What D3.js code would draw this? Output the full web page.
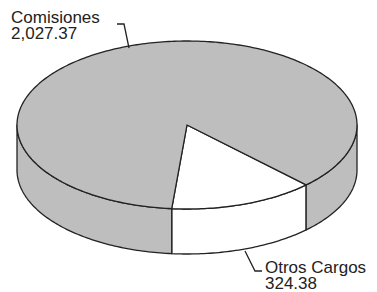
<!DOCTYPE html>
<html>
<head>
<meta charset="utf-8">
<script src="https://cdn.jsdelivr.net/npm/d3@7"></script>
<style>
  body { margin: 0; background: #fff; }
  text { font-family: "Liberation Sans", Arial, sans-serif; fill: #222; }
</style>
</head>
<body>
<script>
// data
let labels = ["Otros Cargos", "Comisiones"]
let values = [324.38, 2027.37]
let valueText = ["324.38", "2,027.37"]

let width = 377
let height = 292

// ellipse of the pie top, and thickness of the wall
let cx = 187, cy = 125, rx = 170, ry = 84, depth = 45

let color = d3.scaleOrdinal()
                .domain(labels)
                .range(["#ffffff", "#bebebe"])

let svg = d3.select("body")
                .append("svg")
                .attr("width", width)
                .attr("height", height)

let start = 135.5 * Math.PI / 180
let pie = d3.pie()
                .sort(null)
                .startAngle(start)
                .endAngle(start + 2 * Math.PI)

let arcs = pie(values)

// point on the ellipse, pie angle from 12 o'clock clockwise
let pt = (a, dz) => [cx + rx * Math.sin(a), cy - ry * Math.cos(a) + (dz || 0)]

let arcPoints = (a0, a1, dz) => {
    let pts = []
    let n = Math.max(2, Math.ceil(Math.abs(a1 - a0) / (Math.PI / 180)))
    for (let i = 0; i <= n; i++) pts.push(pt(a0 + (a1 - a0) * i / n, dz))
    return pts
}

let line = d3.line()

// front part of the wall: angles where the rim faces the viewer
let frontParts = (s, e) => {
    let parts = []
    for (let k = -1; k <= 2; k++) {
        let lo = Math.PI / 2 + k * 2 * Math.PI
        let hi = 3 * Math.PI / 2 + k * 2 * Math.PI
        let a0 = Math.max(s, lo), a1 = Math.min(e, hi)
        if (a1 > a0) parts.push([a0, a1])
    }
    return parts
}

let sides = []
arcs.forEach((d, i) => {
    frontParts(d.startAngle, d.endAngle).forEach(p => sides.push({ label: labels[i], a0: p[0], a1: p[1] }))
})

svg.selectAll(".side")
    .data(sides)
    .enter()
    .append("path")
    .attr("class", "side")
    .attr("d", d => line(arcPoints(d.a0, d.a1, 0).concat(arcPoints(d.a1, d.a0, depth))) + "Z")
    .attr("fill", d => color(d.label))
    .attr("stroke", "#222")
    .attr("stroke-width", 1.3)
    .attr("stroke-linejoin", "round")

svg.selectAll(".top")
    .data(arcs)
    .enter()
    .append("path")
    .attr("class", "top")
    .attr("d", d => line([[cx, cy]].concat(arcPoints(d.startAngle, d.endAngle, 0))) + "Z")
    .attr("fill", (d, i) => color(labels[i]))
    .attr("stroke", "#222")
    .attr("stroke-width", 1.3)
    .attr("stroke-linejoin", "round")

// leader lines and labels
let leader = [
    [[262, 271], [255, 271], [245, 251]],
    [[117, 24], [124, 24], [129, 48]]
]
let labelPos = [[265, 273], [11, 23]]

svg.selectAll(".leader")
    .data(leader)
    .enter()
    .append("path")
    .attr("class", "leader")
    .attr("d", d => line(d))
    .attr("fill", "none")
    .attr("stroke", "#222")
    .attr("stroke-width", 1.3)

labels.forEach((l, i) => {
    let t = svg.append("text")
                .attr("x", labelPos[i][0])
                .attr("y", labelPos[i][1])
                .style("font-size", "17px")
    t.append("tspan").attr("x", labelPos[i][0]).text(l)
    t.append("tspan").attr("x", labelPos[i][0]).attr("dy", 15.5).text(valueText[i])
})
</script>
</body>
</html>
